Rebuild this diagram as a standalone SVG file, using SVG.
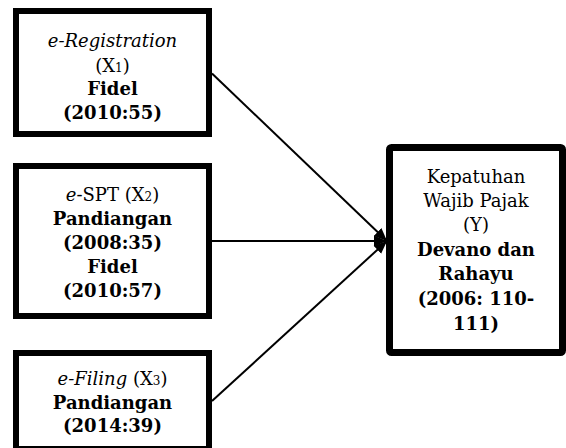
<svg xmlns="http://www.w3.org/2000/svg" width="566" height="448" viewBox="0 0 566 448">
  <style>
    .box { fill: #ffffff; stroke: #000000; stroke-width: 6; }
    .boxy { fill: #ffffff; stroke: #000000; stroke-width: 7; stroke-linejoin: round; }
    .conn { stroke: #000000; stroke-width: 2; fill: none; }
    text { font-family: "DejaVu Serif", "Liberation Serif", serif; font-size: 18px; fill: #000000; text-anchor: middle; }
    .b { font-weight: bold; }
    .i { font-style: italic; }
    .sub { font-size: 12px; }
  </style>
  <defs>
    <marker id="arrow" markerUnits="userSpaceOnUse" markerWidth="14" markerHeight="12" refX="13" refY="6" orient="auto">
      <path d="M0,0.5 L13,6 L0,11.5 z" fill="#000000"/>
    </marker>
  </defs>
  <rect width="566" height="448" fill="#ffffff"/>

  <g id="connectors">
    <line class="conn" x1="212" y1="73.5" x2="387" y2="241" marker-end="url(#arrow)"/>
    <line class="conn" x1="212" y1="241" x2="387" y2="241" marker-end="url(#arrow)"/>
    <line class="conn" x1="212" y1="401" x2="387" y2="241" marker-end="url(#arrow)"/>
  </g>

  <g id="node-x1">
    <rect class="box" x="16" y="11" width="193" height="123"/>
    <text x="112.5" y="47" class="i">e-Registration</text>
    <text x="112.5" y="72">(X<tspan class="sub">1</tspan>)</text>
    <text x="112.5" y="95" class="b">Fidel</text>
    <text x="112.5" y="119" class="b">(2010:55)</text>
  </g>

  <g id="node-x2">
    <rect class="box" x="16" y="166" width="193" height="150"/>
    <text x="112.5" y="201"><tspan class="i">e</tspan>-SPT (X<tspan class="sub">2</tspan>)</text>
    <text x="112.5" y="224.5" class="b">Pandiangan</text>
    <text x="112.5" y="248.5" class="b">(2008:35)</text>
    <text x="112.5" y="272.5" class="b">Fidel</text>
    <text x="112.5" y="296.5" class="b">(2010:57)</text>
  </g>

  <g id="node-x3">
    <rect class="box" x="16" y="353" width="193" height="96"/>
    <text x="112.5" y="385"><tspan class="i">e-Filing</tspan> (X<tspan class="sub">3</tspan>)</text>
    <text x="112.5" y="408.5" class="b">Pandiangan</text>
    <text x="112.5" y="432" class="b">(2014:39)</text>
  </g>

  <g id="node-y">
    <rect class="boxy" x="389.5" y="147.5" width="173" height="205" rx="2"/>
    <text x="476" y="183">Kepatuhan</text>
    <text x="476" y="207">Wajib Pajak</text>
    <text x="476" y="231">(Y)</text>
    <text x="476" y="256" class="b">Devano dan</text>
    <text x="476" y="280" class="b">Rahayu</text>
    <text x="476" y="305" class="b">(2006: 110-</text>
    <text x="476" y="330" class="b">111)</text>
  </g>
</svg>
